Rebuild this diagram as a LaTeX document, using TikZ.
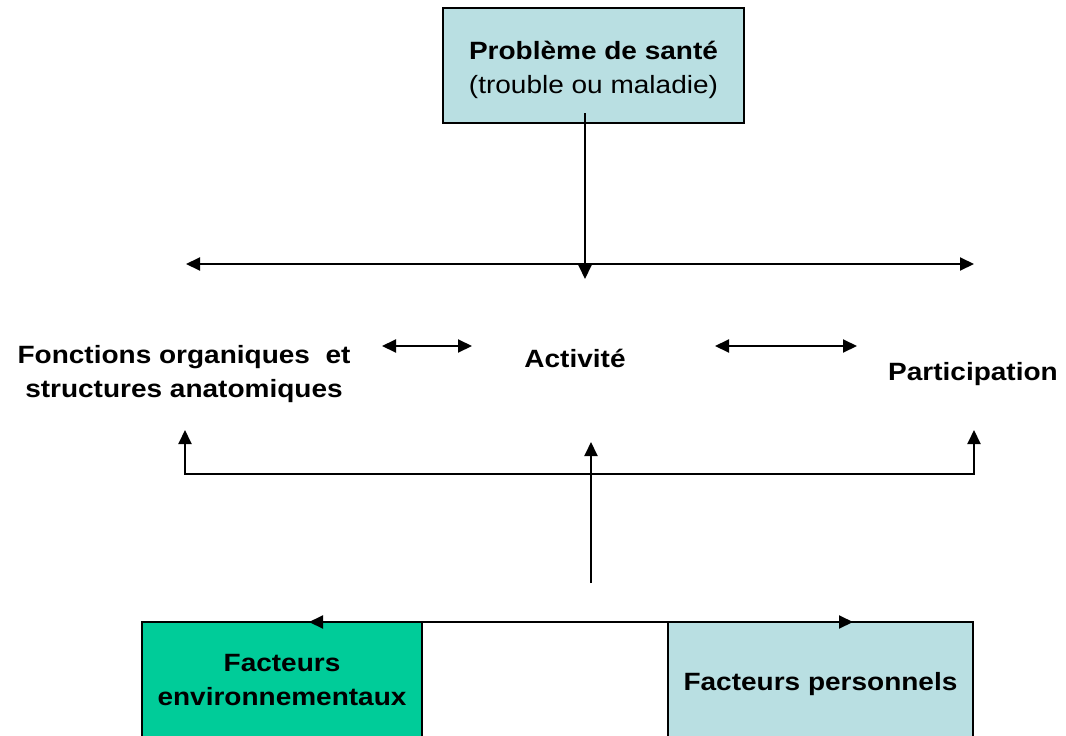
\documentclass[tikz,border=0pt]{standalone}
\usepackage{fontspec}
\setmainfont{Liberation Sans}[FakeStretch=1.12]
\usetikzlibrary{arrows.meta}
\definecolor{lightbox}{RGB}{185,223,226}
\definecolor{greenbox}{RGB}{0,204,153}
\begin{document}
\begin{tikzpicture}[x=1pt,y=-1pt,
  >={Triangle[length=14pt,width=13pt]},
  conn/.style={line width=2pt},
  box/.style={draw=black, line width=2pt, inner sep=0pt, align=center},
  lbl/.style={inner sep=0pt, align=center, font=\fontsize{25}{31}\selectfont\bfseries}]
\useasboundingbox (0,0) rectangle (1066,736);
\clip (0,0) rectangle (1066,736);
\fill[white] (0,0) rectangle (1066,736);
% boxes
\node[box, fill=lightbox, minimum width=301pt, minimum height=115pt, font=\fontsize{25}{35}\selectfont] (sante) at (593.5,65.5)
  {\raisebox{-4pt}[\height][\depth]{\begin{tabular}{@{}c@{}}\textbf{Problème de santé}\\(trouble ou maladie)\end{tabular}}};
\node[box, fill=greenbox, minimum width=280pt, minimum height=116pt, font=\fontsize{25}{34}\selectfont\bfseries] (env) at (282,680)
  {Facteurs\\environnementaux};
\node[box, fill=lightbox, minimum width=305pt, minimum height=124pt, font=\fontsize{25}{31}\selectfont\bfseries] (pers) at (820.5,684)
  {Facteurs personnels};
% labels
\node[lbl, font=\fontsize{25}{34}\selectfont\bfseries] (fonc) at (184,374) {Fonctions organiques\ \ et\\structures anatomiques};
\node[lbl] (act) at (575,358) {Activité};
\node[lbl] (part) at (973,374) {Participation};
% coordinates
\coordinate (s0) at (585,113);
\coordinate (sdown) at (585,279);
\coordinate (hl) at (186,264);
\coordinate (hr) at (974,264);
\coordinate (d1a) at (382,346);
\coordinate (d1b) at (472,346);
\coordinate (d2a) at (715,346);
\coordinate (d2b) at (857,346);
\coordinate (bl) at (185,430);
\coordinate (br) at (974,430);
\coordinate (up0) at (591,583);
\coordinate (up1) at (591,442);
\coordinate (bmid) at (583,622);
\coordinate (bleft) at (309,622);
\coordinate (bright) at (853,622);
% connectors
\draw[conn,->] (s0) -- (sdown);
\draw[conn,<->] (hl) -- (hr);
\draw[conn,<->] (d1a) -- (d1b);
\draw[conn,<->] (d2a) -- (d2b);
\draw[conn,<->] (bl) -- (185,474) -- (974,474) -- (br);
\draw[conn,->] (up0) -- (up1);
\draw[conn,->] (bmid) -- (bleft);
\draw[conn,->] (bmid) -- (bright);
\end{tikzpicture}
\end{document}
